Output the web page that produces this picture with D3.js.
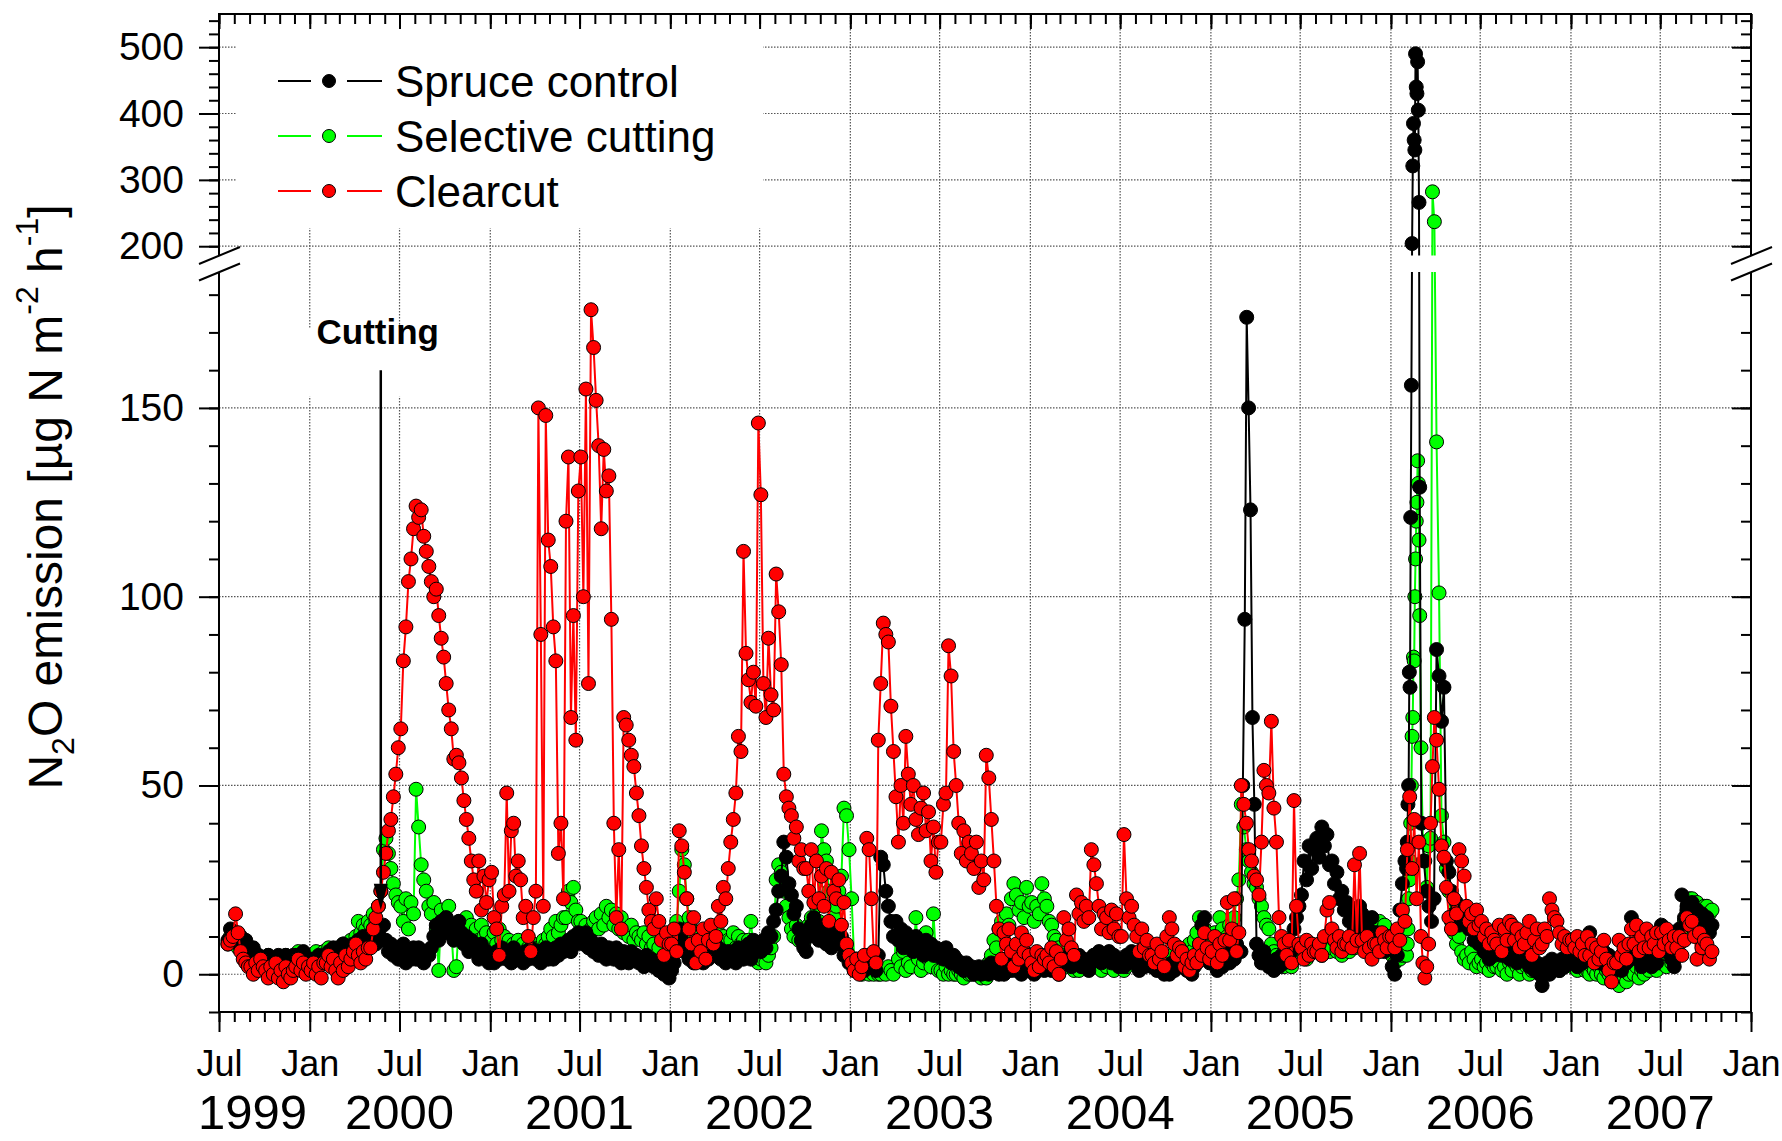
<!DOCTYPE html>
<html>
<head>
<meta charset="utf-8">
<script src="https://cdn.jsdelivr.net/npm/d3@7"></script>
<style>
  body { margin: 0; background: #fff; }
  svg text { font-family: "Liberation Sans", Arial, Helvetica, sans-serif; }
</style>
</head>
<body>
<div class="chart"></div>
<script>
// N2O emission, one row per month: [month, samples spread evenly over that month]
const spruce = [
  ["1999-07", null, null, null, 9, 12, 10], ["1999-08", 11, 8, 10, 7, 9, 6], ["1999-09", 5, 7, 4, 5, 3, 4],
  ["1999-10", 3, 5, 2, 4, 3, 5], ["1999-11", 4, 2, 5, 3, 4, 5], ["1999-12", 5, 3, 4, 6, 3, 4],
  ["2000-01", 4, 2, 3, 5, 4, 3], ["2000-02", 4, 6, 5, 7, 6, 5], ["2000-03", 6, 8, 5, 7, 6, 8],
  ["2000-04", 7, 9, 6, 10, 8, 9], ["2000-05", 10, 12, 8, 11, 9, 13], ["2000-06", 9, 6, 8, 5, 7, 4],
  ["2000-07", 5, 8, 3, 6, 4, 7], ["2000-08", 4, 7, 5, 3, 6, 5], ["2000-09", 7, 10, 13, 9, 14, 11],
  ["2000-10", 15, 11, 13, 9, 12, 14], ["2000-11", 11, 8, 10, 6, 9, 7], ["2000-12", 7, 4, 8, 5, 6, 3],
  ["2001-01", 5, 3, 6, 4, 7, 5], ["2001-02", 4, 6, 3, 7, 5, 4], ["2001-03", 5, 3, 6, 4, 7, 5],
  ["2001-04", 4, 6, 3, 5, 7, 4], ["2001-05", 6, 4, 7, 5, 8, 6], ["2001-06", 7, 9, 6, 10, 8, 11],
  ["2001-07", 10, 8, 11, 7, 9, 6], ["2001-08", 7, 5, 8, 6, 4, 7], ["2001-09", 6, 4, 7, 5, 3, 6],
  ["2001-10", 5, 3, 6, 4, 5, 3], ["2001-11", 4, 2, 5, 3, 4, 2], ["2001-12", 3, 1, 2, 0, 1, -1],
  ["2002-01", 1, 3, 7, 12, 9, 6], ["2002-02", 6, 4, 5, 3, 6, 4], ["2002-03", 5, 3, 6, 4, 7, 5],
  ["2002-04", 5, 7, 4, 6, 3, 6], ["2002-05", 4, 6, 3, 7, 5, 4], ["2002-06", 5, 8, 4, 9, 6, 7],
  ["2002-07", 6, 9, 7, 11, 10, 14], ["2002-08", 17, 22, 26, 35, 31, 24], ["2002-09", 21, 16, 18, 12, 9, 7],
  ["2002-10", 6, 10, 13, 15, 12, 9], ["2002-11", 10, 13, 8, 12, 7, 11], ["2002-12", 12, 8, 10, 5, 6, 3],
  ["2003-01", 3, 1, 4, 2, 3, 1], ["2003-02", 3, 5, 2, 4, 1, 5], ["2003-03", 31, 29, 22, 18, 14, 10],
  ["2003-04", 14, 9, 12, 7, 11, 8], ["2003-05", 9, 6, 10, 7, 8, 5], ["2003-06", 9, 6, 8, 5, 7, 6],
  ["2003-07", 6, 4, 7, 5, 3, 5], ["2003-08", 4, 2, 3, 1, 3, 2], ["2003-09", 2, 0, 1, 2, 0, 1],
  ["2003-10", 2, 0, 3, 1, 2, 0], ["2003-11", 2, 0, 1, 3, 1, 2], ["2003-12", 1, 3, 0, 2, 3, 1],
  ["2004-01", 2, 0, 1, 3, 2, 1], ["2004-02", 2, 4, 1, 3, 2, 0], ["2004-03", 2, 4, 3, 5, 2, 4],
  ["2004-04", 3, 5, 2, 4, 3, 1], ["2004-05", 3, 5, 4, 6, 3, 5], ["2004-06", 4, 6, 3, 5, 4, 2],
  ["2004-07", 4, 2, 5, 3, 6, 4], ["2004-08", 3, 1, 4, 2, 3, 5], ["2004-09", 2, 4, 1, 3, 2, 0],
  ["2004-10", 2, 0, 3, 1, 2, 4], ["2004-11", 2, 4, 1, 3, 0, 2], ["2004-12", 3, 8, 13, 15, 6, 3],
  ["2005-01", 3, 6, 1, 5, 2, 7], ["2005-02", 5, 3, 7, 4, 8, 6],
  ["2005-03", 6, 50, 94, 174, 150, 123, 68, 45], ["2005-04", 8, 5, 3, 6, 4, 2], ["2005-05", 3, 1, 4, 2, 5, 3],
  ["2005-06", 5, 8, 6, 12, 15, 18], ["2005-07", 21, 30, 25, 34, 28, 33], ["2005-08", 36, 31, 39, 34, 37, 29],
  ["2005-09", 30, 24, 27, 20, 22, 17], ["2005-10", 19, 14, 17, 12, 15, 18], ["2005-11", 16, 12, 14, 10, 15, 11],
  ["2005-12", 11, 7, 10, 6, 9, 8], ["2006-01", 2, 0, 5, 17, 24, 30],
  ["2006-02", 28, 35, 45, 50, 80, 76, 121, 156, 204, 321, 385, 360, 345, 490, 440, 430, 478, 405, 266, 129],
  ["2006-03", 40, 30, 22, 18, 14, 20], ["2006-04", 86, 79, 67, 76, 30, 27], ["2006-05", 22, 16, 19, 13, 17, 15],
  ["2006-06", 17, 12, 14, 9, 11, 8], ["2006-07", 9, 6, 8, 4, 7, 5], ["2006-08", 6, 9, 5, 10, 7, 4],
  ["2006-09", 5, 8, 3, 7, 4, 6], ["2006-10", 4, 2, 5, 1, 3, 0], ["2006-11", -3, 1, 3, 0, 4, 2],
  ["2006-12", 3, 1, 4, 2, 5, 3], ["2007-01", 4, 6, 2, 5, 3, 6], ["2007-02", 5, 11, 7, 4, 6, 3],
  ["2007-03", 3, 6, 2, 5, 4, 1], ["2007-04", 2, 4, 1, 5, 3, 4], ["2007-05", 15, 7, 4, 6, 2, 3],
  ["2007-06", 4, 6, 2, 5, 3, 7], ["2007-07", 13, 9, 6, 10, 4, 2], ["2007-08", 8, 12, 21, 15, 18, 13],
  ["2007-09", 19, 14, 17, 12, 16, 13], ["2007-10", 15, 11, 13, null, null, null]
];

const selective = [
  ["1999-07", null, null, null, 8, 10, 9], ["1999-08", 9, 7, 8, 6, 7, 5], ["1999-09", 4, 6, 3, 5, 2, 4],
  ["1999-10", 3, 5, 2, 4, 3, 4], ["1999-11", 4, 2, 5, 3, 4, 3], ["1999-12", 4, 6, 3, 5, 4, 5],
  ["2000-01", 5, 3, 6, 4, 5, 6], ["2000-02", 5, 7, 4, 6, 5, 7], ["2000-03", 6, 8, 5, 7, 9, 8],
  ["2000-04", 10, 14, 11, 13, 12, 14], ["2000-05", 13, 16, 14, 18, 22, 33], ["2000-06", 36, 32, 28, 24, 21, 19],
  ["2000-07", 18, 14, 20, 12, 19, 16], ["2000-08", 49, 39, 29, 25, 22, 18], ["2000-09", 16, 19, 12, 1, 17, 14],
  ["2000-10", 15, 18, 12, 1, 2, 14], ["2000-11", 14, 11, 15, 12, 13, 10], ["2000-12", 12, 9, 13, 10, 11, 8],
  ["2001-01", 9, 11, 8, 12, 9, 10], ["2001-02", 7, 9, 6, 8, 7, 9], ["2001-03", 6, 8, 5, 7, 6, 8],
  ["2001-04", 5, 7, 6, 9, 8, 10], ["2001-05", 12, 10, 14, 11, 13, 15], ["2001-06", 15, 22, 19, 23, 17, 14],
  ["2001-07", 14, 11, 13, 10, 12, 14], ["2001-08", 15, 12, 16, 13, 18, 15], ["2001-09", 17, 13, 16, 12, 15, 11],
  ["2001-10", 12, 10, 13, 9, 11, 10], ["2001-11", 9, 11, 8, 10, 7, 8], ["2001-12", 5, 7, 4, 3, 5, 2],
  ["2002-01", 3, 8, 14, 22, 33, 29], ["2002-02", 20, 15, 12, 10, 11, 9], ["2002-03", 8, 10, 7, 9, 8, 10],
  ["2002-04", 9, 11, 8, 10, 7, 9], ["2002-05", 9, 11, 7, 10, 8, 9], ["2002-06", 6, 9, 14, 7, 5, 3],
  ["2002-07", 4, 6, 3, 5, 7, 10], ["2002-08", 25, 29, 27, 22, 18, 15], ["2002-09", 12, 10, 13, 9, 11, 8],
  ["2002-10", 10, 13, 15, 12, 18, 14], ["2002-11", 38, 33, 30, 22, 18, 15], ["2002-12", 18, 22, 26, 44, 42, 33],
  ["2003-01", 20, 4, 2, 1, 0, 1], ["2003-02", 1, 0, 2, 0, 1, 0], ["2003-03", 0, 1, 0, 2, 1, 0],
  ["2003-04", 10, 4, 2, 6, 1, 3], ["2003-05", 2, 6, 15, 4, 1, 3], ["2003-06", 11, 4, 2, 16, 5, 1],
  ["2003-07", 1, 0, 2, 0, 1, 0], ["2003-08", 0, 1, 0, -1, 1, 0], ["2003-09", 0, 1, 0, 1, -1, 0],
  ["2003-10", -1, 3, 5, 9, 7, 12], ["2003-11", 14, 11, 16, 13, 20, 24], ["2003-12", 21, 17, 19, 15, 23, 18],
  ["2004-01", 19, 14, 18, 16, 24, 20], ["2004-02", 18, 14, 13, 10, 9, 7], ["2004-03", 5, 3, 4, 2, 3, 1],
  ["2004-04", 3, 1, 4, 2, 3, 2], ["2004-05", 3, 5, 2, 4, 1, 3], ["2004-06", 2, 4, 3, 1, 4, 3],
  ["2004-07", 3, 1, 2, 4, 3, 5], ["2004-08", 4, 2, 5, 3, 6, 4], ["2004-09", 5, 7, 4, 6, 3, 4],
  ["2004-10", 4, 2, 5, 3, 4, 6], ["2004-11", 4, 6, 5, 8, 6, 9], ["2004-12", 11, 15, 13, 12, 10, 9],
  ["2005-01", 8, 11, 10, 15, 12, 9], ["2005-02", 10, 13, 12, 15, 20, 25], ["2005-03", 45, 39, 33, 30, 27, 24],
  ["2005-04", 23, 20, 18, 15, 13, 12], ["2005-05", 8, 6, 5, 3, 4, 2], ["2005-06", 3, 5, 2, 4, 6, 5],
  ["2005-07", 5, 7, 4, 6, 8, 6], ["2005-08", 6, 8, 5, 9, 7, 6], ["2005-09", 7, 9, 6, 8, 5, 7],
  ["2005-10", 8, 6, 9, 7, 10, 8], ["2005-11", 10, 12, 11, 13, 12, 11], ["2005-12", 12, 14, 11, 13, 10, 9],
  ["2006-01", 5, 3, 6, 4, 5, 6],
  ["2006-02", 5, 8, 12, 20, 25, 30, 40, 50, 63, 68, 84, 83, 100, 110, 120, 125, 136, 130, 115, 95],
  ["2006-03", 60, 35, 30, 23, 34, 36, 282, 237], ["2006-04", 141, 101, 42, 35, 28, 22], ["2006-05", 14, 11, 8, 10, 6, 4],
  ["2006-06", 5, 3, 6, 4, 2, 3], ["2006-07", 4, 2, 3, 1, 3, 2], ["2006-08", 2, 3, 1, 2, 0, 3],
  ["2006-09", 1, 3, 2, 0, 2, 3], ["2006-10", 2, 0, 1, 3, 1, 2], ["2006-11", 1, 2, 0, 3, 1, 2],
  ["2006-12", 2, 1, 3, 2, 4, 3], ["2007-01", 2, 3, 1, 3, 2, 1], ["2007-02", 1, 0, 2, 1, 0, 2],
  ["2007-03", 0, -1, 1, 0, -2, 1], ["2007-04", -2, -3, 0, -1, -2, 0], ["2007-05", 1, 0, 2, -1, 1, 0],
  ["2007-06", 2, 1, 3, 2, 1, 3], ["2007-07", 3, 4, 2, 5, 3, 4], ["2007-08", 5, 8, 10, 14, 17, 20],
  ["2007-09", 20, 18, 19, 16, 17, 18], ["2007-10", 18, 16, 17, null, null, null]
];

const clearcut = [
  ["1999-07", null, null, null, 8, 9, 10], ["1999-08", 16, 11, 6, 4, 3, 2], ["1999-09", 2, 0, 3, 1, 4, 2],
  ["1999-10", 1, -1, 2, 0, 3, -1], ["1999-11", 1, -2, 2, 0, -1, 1], ["1999-12", 2, 4, 1, 3, 0, 2],
  ["2000-01", 1, 3, 0, 2, -1, 3], ["2000-02", 3, 5, 2, 4, 1, -1], ["2000-03", 3, 1, 5, 2, 4, 6],
  ["2000-04", 8, 5, 3, 6, 4, 7], ["2000-05", 7, 12, 15, 18, 22, 27], ["2000-06", 32, 38, 41, 47, 53, 60],
  ["2000-07", 65, 83, 92, 104, 110, 118], ["2000-08", 124, 121, 123, 116, 112, 108], ["2000-09", 104, 100, 102, 95, 89, 84],
  ["2000-10", 77, 70, 65, 57, 58, 56], ["2000-11", 52, 46, 41, 36, 30, 25], ["2000-12", 22, 30, 17, 26, 19, 25],
  ["2001-01", 27, 15, 12, 5, 18, 21], ["2001-02", 48, 22, 38, 40, 26, 30], ["2001-03", 25, 15, 18, 10, 6, 15],
  ["2001-04", 22, 150, 90, 18, 148, 115], ["2001-05", 108, 92, 83, 32, 40, 20], ["2001-06", 120, 137, 68, 95, 62, 128],
  ["2001-07", 137, 100, 155, 77, 176, 166], ["2001-08", 152, 140, 118, 139, 128, 132], ["2001-09", 94, 40, 15, 33, 12, 68],
  ["2001-10", 66, 62, 58, 55, 48, 42], ["2001-11", 34, 28, 23, 17, 14, 12], ["2001-12", 20, 14, 9, 5, 11, 8],
  ["2002-01", 8, 12, 6, 38, 34, 27], ["2002-02", 20, 12, 8, 15, 3, 9], ["2002-03", 6, 12, 4, 9, 13, 8],
  ["2002-04", 10, 18, 14, 23, 20, 28], ["2002-05", 35, 41, 48, 63, 59, 112], ["2002-06", 85, 78, 72, 80, 71, 146],
  ["2002-07", 127, 77, 68, 89, 74, 70], ["2002-08", 106, 96, 82, 53, 47, 44], ["2002-09", 42, 36, 39, 30, 33, 28],
  ["2002-10", 28, 22, 33, 19, 30, 20], ["2002-11", 26, 18, 28, 14, 27, 22], ["2002-12", 20, 25, 13, 19, 8, 5],
  ["2003-01", 3, 1, 4, 0, 2, 5], ["2003-02", 36, 33, 20, 6, 3, 62], ["2003-03", 77, 93, 90, 88, 71, 59],
  ["2003-04", 47, 35, 50, 40, 63, 53], ["2003-05", 45, 50, 41, 37, 44, 48], ["2003-06", 38, 43, 30, 39, 27, 35],
  ["2003-07", 35, 45, 48, 87, 79, 59], ["2003-08", 50, 40, 32, 38, 30, 35], ["2003-09", 32, 28, 35, 23, 30, 25],
  ["2003-10", 58, 52, 41, 30, 18, 12], ["2003-11", 4, 11, 8, 12, 6, 2], ["2003-12", 8, 4, 11, 6, 9, 5],
  ["2004-01", 3, 1, 6, 2, 5, 4], ["2004-02", 5, 3, 7, 2, 6, 0], ["2004-03", 4, 15, 9, 12, 7, 5],
  ["2004-04", 21, 16, 19, 14, 18, 15], ["2004-05", 33, 29, 24, 18, 12, 16], ["2004-06", 15, 11, 17, 12, 16, 10],
  ["2004-07", 10, 37, 20, 15, 18, 13], ["2004-08", 10, 6, 12, 7, 9, 5], ["2004-09", 5, 3, 8, 4, 6, 2],
  ["2004-10", 10, 15, 12, 8, 5, 7], ["2004-11", 6, 2, 4, 1, 3, 5], ["2004-12", 3, 8, 5, 11, 7, 4],
  ["2005-01", 6, 10, 3, 8, 5, 9], ["2005-02", 19, 9, 12, 20, 6, 11], ["2005-03", 50, 45, 40, 33, 30, 26],
  ["2005-04", 25, 21, 35, 54, 50, 48], ["2005-05", 67, 44, 35, 15, 10, 8], ["2005-06", 5, 9, 3, 46, 18, 8],
  ["2005-07", 7, 4, 9, 5, 8, 6], ["2005-08", 6, 8, 5, 10, 17, 19], ["2005-09", 12, 9, 7, 10, 6, 8],
  ["2005-10", 8, 10, 7, 29, 9, 32], ["2005-11", 9, 6, 10, 7, 4, 8], ["2005-12", 8, 6, 11, 9, 7, 10],
  ["2006-01", 10, 7, 12, 9, 17, 14], ["2006-02", 33, 47, 28, 41, 20, 35], ["2006-03", 10, 3, -1, 2, 8, 40, 55, 68],
  ["2006-04", 62, 49, 34, 31, 23, 15], ["2006-05", 12, 20, 16, 33, 30, 26], ["2006-06", 18, 14, 16, 12, 17, 13],
  ["2006-07", 14, 10, 12, 8, 11, 9], ["2006-08", 8, 13, 6, 12, 9, 14], ["2006-09", 13, 9, 12, 7, 10, 8],
  ["2006-10", 11, 14, 5, 9, 12, 7], ["2006-11", 8, 12, 10, 20, 17, 15], ["2006-12", 14, 11, 8, 10, 7, 9],
  ["2007-01", 9, 7, 10, 6, 8, 5], ["2007-02", 10, 5, 8, 3, 7, 4], ["2007-03", 6, 9, 4, 1, -2, 3],
  ["2007-04", 3, 9, 5, 7, 4, 8], ["2007-05", 12, 8, 13, 6, 10, 7], ["2007-06", 12, 7, 10, 8, 11, 6],
  ["2007-07", 11, 8, 12, 9, 7, 10], ["2007-08", 7, 10, 5, 9, 15, 13], ["2007-09", 14, 10, 4, 11, 7, 9],
  ["2007-10", 8, 4, 6, null, null, null]
];

const seriesNames = ["Spruce control", "Selective cutting", "Clearcut"];
const seriesColors = ["#000000", "#00ff00", "#ff0000"];
const lowTicks = [0, 50, 100, 150];
const highTicks = [200, 300, 400, 500];
const yearLabels = [1999, 2000, 2001, 2002, 2003, 2004, 2005, 2006, 2007];
const cutDate = "2000-05-24";

function expand(rows) {
  const parse = d3.timeParse("%Y-%m");
  const out = [];
  rows.forEach(([m, ...vals]) => {
    const t0 = parse(m), t1 = d3.timeMonth.offset(t0, 1);
    vals.forEach((v, i) => {
      if (v != null) out.push({ date: new Date(+t0 + (i + 0.5) / vals.length * (t1 - t0)), value: v });
    });
  });
  return out;
}

const W = 1782, H = 1141;
const L = 219, R = 1751, T = 14, B = 1012;
const BRK = 186;

const svg = d3.select(".chart").append("svg")
  .attr("width", W).attr("height", H);

const x = d3.scaleTime()
  .domain([new Date(1999, 6, 1), new Date(2008, 0, 1)])
  .range([L, R]);
const yLow = d3.scaleLinear().domain([-10, BRK]).range([B, 272]);
const yHigh = d3.scaleLinear().domain([BRK, 550]).range([255.5, T]);
const y = v => v > BRK ? yHigh(v) : yLow(v);

// grid
const grid = svg.append("g")
  .attr("stroke", "#555").attr("stroke-width", 1.2).attr("stroke-dasharray", "1.5,1.5");
const majorMonths = d3.timeMonth.every(6).range(new Date(1999, 6, 1), new Date(2008, 0, 2));
grid.selectAll(".vg")
  .data(majorMonths.slice(1, -1))
  .enter().append("line")
  .attr("x1", d => x(d)).attr("x2", d => x(d))
  .attr("y1", T).attr("y2", B);
grid.selectAll(".hl")
  .data(lowTicks)
  .enter().append("line")
  .attr("x1", L).attr("x2", R)
  .attr("y1", d => yLow(d)).attr("y2", d => yLow(d));
grid.selectAll(".hh")
  .data(highTicks)
  .enter().append("line")
  .attr("x1", L).attr("x2", R)
  .attr("y1", d => yHigh(d)).attr("y2", d => yHigh(d));

// white boxes behind legend and label
svg.append("rect").attr("x", 236).attr("y", T + 2).attr("width", 527).attr("height", 212).attr("fill", "#fff");
svg.append("rect").attr("x", x(d3.timeParse("%Y-%m-%d")(cutDate)) - 76).attr("y", yLow(171))
  .attr("width", 148).attr("height", 68).attr("fill", "#fff");

// plot clip: two panels of the broken axis
const clip = svg.append("defs").append("clipPath").attr("id", "plot-clip");
clip.append("rect").attr("x", L).attr("y", T).attr("width", R - L).attr("height", yHigh(BRK) - T);
clip.append("rect").attr("x", L).attr("y", yLow(BRK)).attr("width", R - L).attr("height", B - yLow(BRK));

const plot = svg.append("g").attr("clip-path", "url(#plot-clip)");
const line = d3.line().x(d => x(d.date)).y(d => y(d.value));

// draw order: selective, spruce, clearcut
const layers = [[selective, seriesColors[1]], [spruce, seriesColors[0]], [clearcut, seriesColors[2]]];
layers.forEach(([rows, col]) => {
  const pts = expand(rows);
  const g = plot.append("g");
  g.append("path").datum(pts)
    .attr("d", line)
    .attr("fill", "none")
    .attr("stroke", col)
    .attr("stroke-width", 2);
  g.selectAll("circle")
    .data(pts)
    .enter().append("circle")
    .attr("cx", d => x(d.date))
    .attr("cy", d => y(d.value))
    .attr("r", 7)
    .attr("fill", col)
    .attr("stroke", "#000")
    .attr("stroke-width", 1);
});

// Cutting annotation
const cx = x(d3.timeParse("%Y-%m-%d")(cutDate));
svg.append("line")
  .attr("x1", cx).attr("x2", cx)
  .attr("y1", yLow(160)).attr("y2", yLow(24))
  .attr("stroke", "#000").attr("stroke-width", 2.5);
svg.append("path")
  .attr("d", `M${cx - 7},${yLow(24)} L${cx + 7},${yLow(24)} L${cx},${yLow(17)} Z`)
  .attr("fill", "#000");
svg.append("text")
  .attr("x", cx - 3).attr("y", yLow(167))
  .attr("text-anchor", "middle")
  .attr("font-size", "35px")
  .attr("font-weight", "bold")
  .text("Cutting");

// legend
const leg = svg.append("g");
seriesNames.forEach((name, i) => {
  const cy = 81 + i * 55;
  const col = seriesColors[i];
  leg.append("line").attr("x1", 278).attr("x2", 311).attr("y1", cy).attr("y2", cy)
    .attr("stroke", col).attr("stroke-width", 2);
  leg.append("line").attr("x1", 347).attr("x2", 382).attr("y1", cy).attr("y2", cy)
    .attr("stroke", col).attr("stroke-width", 2);
  leg.append("circle").attr("cx", 329).attr("cy", cy).attr("r", 6.5)
    .attr("fill", col).attr("stroke", "#000").attr("stroke-width", 1);
  leg.append("text").attr("x", 395).attr("y", cy + 16)
    .attr("font-size", "44px")
    .text(name);
});

// axes
const allMonths = d3.timeMonth.range(new Date(1999, 6, 1), new Date(2008, 0, 2));
function styleAxis(g) {
  g.select(".domain").remove();
  g.selectAll("line").attr("stroke", "#000").attr("stroke-width", 2);
}

svg.append("g").attr("transform", `translate(0,${B})`)
  .call(d3.axisBottom(x).tickValues(allMonths).tickSize(10).tickFormat(""))
  .call(styleAxis);
svg.append("g").attr("transform", `translate(0,${B})`)
  .call(d3.axisBottom(x).tickValues(majorMonths).tickSize(20).tickFormat(d3.timeFormat("%b")))
  .call(styleAxis)
  .call(g => g.selectAll("text").attr("y", 64).attr("dy", 0).attr("font-size", "36px").attr("fill", "#000"));

svg.append("g").attr("transform", `translate(0,${T})`)
  .call(d3.axisTop(x).tickValues(allMonths).tickSize(-10).tickFormat(""))
  .call(styleAxis);
svg.append("g").attr("transform", `translate(0,${T})`)
  .call(d3.axisTop(x).tickValues(majorMonths).tickSize(-15).tickFormat(""))
  .call(styleAxis);

[[yLow, d3.range(-10, BRK, 10), lowTicks], [yHigh, d3.range(200, 550, 20), highTicks]].forEach(([sc, minor, major]) => {
  svg.append("g").attr("transform", `translate(${L},0)`)
    .call(d3.axisLeft(sc).tickValues(minor).tickSize(10).tickFormat(""))
    .call(styleAxis);
  svg.append("g").attr("transform", `translate(${L},0)`)
    .call(d3.axisLeft(sc).tickValues(major).tickSize(20).tickPadding(15))
    .call(styleAxis)
    .call(g => g.selectAll("text").attr("font-size", "39px").attr("fill", "#000"));
  svg.append("g").attr("transform", `translate(${R},0)`)
    .call(d3.axisRight(sc).tickValues(minor).tickSize(-10).tickFormat(""))
    .call(styleAxis);
  svg.append("g").attr("transform", `translate(${R},0)`)
    .call(d3.axisRight(sc).tickValues(major).tickSize(-19).tickFormat(""))
    .call(styleAxis);
});

// frame with axis break
const frame = svg.append("g").attr("stroke", "#000").attr("stroke-width", 2).attr("fill", "none");
frame.append("line").attr("x1", L - 1).attr("x2", R + 1).attr("y1", T).attr("y2", T);
frame.append("line").attr("x1", L - 1).attr("x2", R + 1).attr("y1", B).attr("y2", B);
[L, R].forEach(ax => {
  frame.append("line").attr("x1", ax).attr("x2", ax).attr("y1", T).attr("y2", yHigh(BRK));
  frame.append("line").attr("x1", ax).attr("x2", ax).attr("y1", yLow(BRK)).attr("y2", B);
  [yHigh(BRK), yLow(BRK)].forEach(yy => {
    frame.append("line")
      .attr("x1", ax - 20).attr("y1", yy + 8.5)
      .attr("x2", ax + 21).attr("y2", yy - 8.5);
  });
});

// year labels
svg.selectAll(".year")
  .data(yearLabels)
  .enter().append("text")
  .attr("x", d => d === 1999 ? x(new Date(d, 6, 1)) - 21 : x(new Date(d, 6, 1)))
  .attr("y", 1129)
  .attr("text-anchor", d => d === 1999 ? "start" : "middle")
  .attr("font-size", "49px")
  .text(d => d);

// y axis title
const title = svg.append("text")
  .attr("transform", "translate(62,497) rotate(-90)")
  .attr("text-anchor", "middle")
  .attr("font-size", "48px");
title.append("tspan").text("N");
title.append("tspan").attr("dy", 12).attr("font-size", "32px").text("2");
title.append("tspan").attr("dy", -12).text("O emission [µg N m");
title.append("tspan").attr("dy", -24).attr("font-size", "32px").text("-2");
title.append("tspan").attr("dy", 24).text(" h");
title.append("tspan").attr("dy", -24).attr("font-size", "32px").text("-1");
title.append("tspan").attr("dy", 24).text("]");
</script>
</body>
</html>
